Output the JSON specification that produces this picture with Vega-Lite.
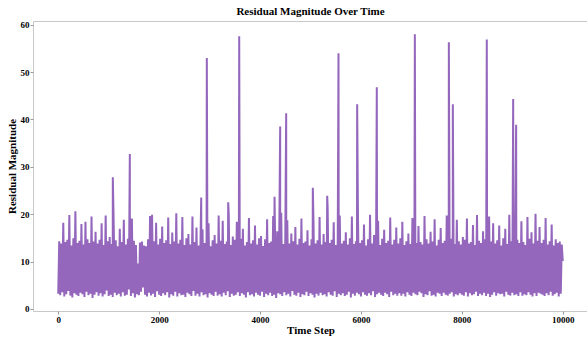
{
  "$schema": "https://vega.github.io/schema/vega-lite/v6.json",
  "width": 555,
  "height": 290,
  "autosize": {"type": "none"},
  "padding": {"left": 33, "top": 21, "right": 0, "bottom": 26},
  "title": {"text": "Residual Magnitude Over Time", "font": "Liberation Serif", "fontSize": 11, "fontWeight": "bold", "color": "#000000", "offset": 4, "anchor": "middle"},
  "config": {
    "view": {"stroke": "#c8c8c8", "strokeWidth": 1},
    "axis": {
      "domain": false,
      "grid": false,
      "tickColor": "#9a9a9a",
      "tickSize": 3,
      "tickWidth": 1,
      "labelFont": "Liberation Serif",
      "labelFontSize": 9,
      "labelFontWeight": "bold",
      "labelColor": "#000000",
      "labelPadding": 1,
      "titleFont": "Liberation Serif",
      "titleFontSize": 11,
      "titleFontWeight": "bold",
      "titleColor": "#000000"
    }
  },
  "data": {"values": [
    {"t":0,"r":3.2},{"t":20,"r":14.3},{"t":40,"r":2.9},{"t":60,"r":13.8},{"t":80,"r":3.5},{"t":100,"r":18.2},{"t":120,"r":2.6},{"t":140,"r":14.1},{"t":160,"r":3.1},{"t":180,"r":14.6},
    {"t":200,"r":3.8},{"t":220,"r":19.8},{"t":240,"r":2.8},{"t":260,"r":13.4},{"t":280,"r":2.4},{"t":300,"r":14.9},{"t":320,"r":3.3},{"t":340,"r":20.6},{"t":360,"r":3.0},{"t":380,"r":13.9},
    {"t":400,"r":2.7},{"t":420,"r":14.4},{"t":440,"r":3.4},{"t":460,"r":17.9},{"t":480,"r":3.1},{"t":500,"r":13.6},{"t":520,"r":2.5},{"t":540,"r":18.4},{"t":560,"r":3.6},{"t":580,"r":14.7},
    {"t":600,"r":2.9},{"t":620,"r":13.9},{"t":640,"r":3.2},{"t":660,"r":19.5},{"t":680,"r":2.3},{"t":700,"r":14.2},{"t":720,"r":3.0},{"t":740,"r":16.3},{"t":760,"r":3.5},{"t":780,"r":13.8},
    {"t":800,"r":2.8},{"t":820,"r":14.6},{"t":840,"r":3.3},{"t":860,"r":18.1},{"t":880,"r":2.6},{"t":900,"r":13.5},{"t":920,"r":3.1},{"t":940,"r":19.7},{"t":960,"r":3.9},{"t":980,"r":14.3},
    {"t":1000,"r":2.7},{"t":1020,"r":15.2},{"t":1040,"r":3.0},{"t":1060,"r":13.7},{"t":1080,"r":2.5},{"t":1100,"r":17.6},{"t":1120,"r":3.4},{"t":1140,"r":14.5},{"t":1160,"r":2.9},{"t":1180,"r":13.2},
    {"t":1200,"r":3.2},{"t":1220,"r":16.9},{"t":1240,"r":2.6},{"t":1260,"r":14.1},{"t":1280,"r":3.5},{"t":1300,"r":18.8},{"t":1320,"r":2.8},{"t":1340,"r":13.6},{"t":1360,"r":3.0},{"t":1380,"r":14.8},
    {"t":1400,"r":4.1},{"t":1420,"r":13.3},{"t":1440,"r":2.7},{"t":1460,"r":19.1},{"t":1480,"r":3.3},{"t":1500,"r":14.4},{"t":1520,"r":2.4},{"t":1540,"r":13.5},{"t":1560,"r":3.1},{"t":1580,"r":9.6},
    {"t":1600,"r":2.9},{"t":1620,"r":14.0},{"t":1640,"r":3.6},{"t":1660,"r":14.2},{"t":1680,"r":4.5},{"t":1700,"r":13.4},{"t":1720,"r":3.0},{"t":1740,"r":13.2},{"t":1760,"r":2.6},{"t":1780,"r":14.7},
    {"t":1800,"r":3.4},{"t":1820,"r":19.6},{"t":1840,"r":2.8},{"t":1860,"r":19.9},{"t":1880,"r":3.2},{"t":1900,"r":14.3},{"t":1920,"r":2.5},{"t":1940,"r":18.2},{"t":1960,"r":3.7},{"t":1980,"r":13.6},
    {"t":2000,"r":3.0},{"t":2020,"r":14.8},{"t":2040,"r":2.7},{"t":2060,"r":17.4},{"t":2080,"r":3.3},{"t":2100,"r":13.9},{"t":2120,"r":2.9},{"t":2140,"r":14.5},{"t":2160,"r":3.5},{"t":2180,"r":19.3},
    {"t":2200,"r":2.4},{"t":2220,"r":13.7},{"t":2240,"r":3.1},{"t":2260,"r":16.1},{"t":2280,"r":2.8},{"t":2300,"r":14.2},{"t":2320,"r":3.6},{"t":2340,"r":20.2},{"t":2360,"r":2.6},{"t":2380,"r":13.8},
    {"t":2400,"r":3.3},{"t":2420,"r":14.6},{"t":2440,"r":2.9},{"t":2460,"r":19.4},{"t":2480,"r":3.0},{"t":2500,"r":13.5},{"t":2520,"r":2.5},{"t":2540,"r":14.9},{"t":2560,"r":3.4},{"t":2580,"r":15.8},
    {"t":2600,"r":3.1},{"t":2620,"r":13.6},{"t":2640,"r":2.7},{"t":2660,"r":19.5},{"t":2680,"r":3.8},{"t":2700,"r":14.1},{"t":2720,"r":2.8},{"t":2740,"r":17.2},{"t":2760,"r":3.2},{"t":2780,"r":13.4},
    {"t":2800,"r":2.6},{"t":2820,"r":14.3},{"t":2840,"r":3.5},{"t":2860,"r":16.8},{"t":2880,"r":2.9},{"t":2900,"r":13.9},{"t":2920,"r":3.1},{"t":2940,"r":14.7},{"t":2960,"r":2.4},{"t":2980,"r":18.1},
    {"t":3000,"r":3.3},{"t":3020,"r":13.2},{"t":3040,"r":3.0},{"t":3060,"r":14.5},{"t":3080,"r":2.7},{"t":3100,"r":15.6},{"t":3120,"r":3.6},{"t":3140,"r":13.8},{"t":3160,"r":2.8},{"t":3180,"r":19.7},
    {"t":3200,"r":3.1},{"t":3220,"r":14.4},{"t":3240,"r":2.6},{"t":3260,"r":18.6},{"t":3280,"r":3.4},{"t":3300,"r":13.7},{"t":3320,"r":2.9},{"t":3340,"r":14.2},{"t":3360,"r":3.7},{"t":3380,"r":19.8},
    {"t":3400,"r":2.5},{"t":3420,"r":13.5},{"t":3440,"r":3.2},{"t":3460,"r":15.3},{"t":3480,"r":2.8},{"t":3500,"r":14.6},{"t":3520,"r":3.0},{"t":3540,"r":18.4},{"t":3560,"r":3.5},{"t":3580,"r":13.9},
    {"t":3600,"r":2.7},{"t":3620,"r":14.8},{"t":3640,"r":3.3},{"t":3660,"r":16.9},{"t":3680,"r":3.0},{"t":3700,"r":13.4},{"t":3720,"r":2.4},{"t":3740,"r":14.1},{"t":3760,"r":3.5},{"t":3780,"r":19.2},
    {"t":3800,"r":2.9},{"t":3820,"r":13.8},{"t":3840,"r":3.1},{"t":3860,"r":14.5},{"t":3880,"r":2.6},{"t":3900,"r":17.6},{"t":3920,"r":3.4},{"t":3940,"r":13.6},{"t":3960,"r":3.0},{"t":3980,"r":14.9},
    {"t":4000,"r":2.8},{"t":4020,"r":15.4},{"t":4040,"r":3.6},{"t":4060,"r":13.3},{"t":4080,"r":2.5},{"t":4100,"r":14.7},{"t":4120,"r":3.2},{"t":4140,"r":18.9},{"t":4160,"r":2.9},{"t":4180,"r":13.9},
    {"t":4200,"r":3.4},{"t":4220,"r":14.2},{"t":4240,"r":2.7},{"t":4260,"r":19.6},{"t":4280,"r":3.0},{"t":4300,"r":13.5},{"t":4320,"r":2.3},{"t":4340,"r":16.4},{"t":4360,"r":3.3},{"t":4380,"r":14.6},
    {"t":4400,"r":3.1},{"t":4420,"r":20.3},{"t":4440,"r":2.7},{"t":4460,"r":13.7},{"t":4480,"r":3.5},{"t":4500,"r":14.4},{"t":4520,"r":2.9},{"t":4540,"r":18.7},{"t":4560,"r":3.2},{"t":4580,"r":13.8},
    {"t":4600,"r":2.6},{"t":4620,"r":15.9},{"t":4640,"r":3.8},{"t":4660,"r":14.3},{"t":4680,"r":3.0},{"t":4700,"r":17.3},{"t":4720,"r":2.8},{"t":4740,"r":13.6},{"t":4760,"r":3.4},{"t":4780,"r":14.8},
    {"t":4800,"r":2.5},{"t":4820,"r":19.1},{"t":4840,"r":3.1},{"t":4860,"r":13.9},{"t":4880,"r":2.9},{"t":4900,"r":14.2},{"t":4920,"r":3.6},{"t":4940,"r":16.6},{"t":4960,"r":2.7},{"t":4980,"r":13.4},
    {"t":5000,"r":3.3},{"t":5020,"r":14.7},{"t":5040,"r":3.0},{"t":5060,"r":17.9},{"t":5080,"r":2.4},{"t":5100,"r":13.8},{"t":5120,"r":3.2},{"t":5140,"r":14.5},{"t":5160,"r":2.8},{"t":5180,"r":19.4},
    {"t":5200,"r":3.4},{"t":5220,"r":13.6},{"t":5240,"r":2.9},{"t":5260,"r":15.8},{"t":5280,"r":3.1},{"t":5300,"r":14.1},{"t":5320,"r":2.6},{"t":5340,"r":21.4},{"t":5360,"r":3.5},{"t":5380,"r":13.9},
    {"t":5400,"r":3.0},{"t":5420,"r":14.6},{"t":5440,"r":2.8},{"t":5460,"r":18.3},{"t":5480,"r":3.7},{"t":5500,"r":13.5},{"t":5520,"r":2.5},{"t":5540,"r":14.8},{"t":5560,"r":3.2},{"t":5580,"r":19.7},
    {"t":5600,"r":2.9},{"t":5620,"r":13.8},{"t":5640,"r":3.3},{"t":5660,"r":14.4},{"t":5680,"r":2.7},{"t":5700,"r":16.2},{"t":5720,"r":3.0},{"t":5740,"r":13.6},{"t":5760,"r":3.6},{"t":5780,"r":14.9},
    {"t":5800,"r":2.4},{"t":5820,"r":19.5},{"t":5840,"r":3.2},{"t":5860,"r":13.7},{"t":5880,"r":2.8},{"t":5900,"r":14.3},{"t":5920,"r":3.4},{"t":5940,"r":20.8},{"t":5960,"r":3.1},{"t":5980,"r":13.9},
    {"t":6000,"r":2.6},{"t":6020,"r":14.5},{"t":6040,"r":3.5},{"t":6060,"r":17.8},{"t":6080,"r":3.0},{"t":6100,"r":13.4},{"t":6120,"r":2.8},{"t":6140,"r":14.7},{"t":6160,"r":3.3},{"t":6180,"r":19.9},
    {"t":6200,"r":2.9},{"t":6220,"r":13.8},{"t":6240,"r":3.7},{"t":6260,"r":15.6},{"t":6280,"r":2.5},{"t":6300,"r":14.2},{"t":6320,"r":3.1},{"t":6340,"r":18.6},{"t":6360,"r":3.4},{"t":6380,"r":13.5},
    {"t":6400,"r":3.0},{"t":6420,"r":14.8},{"t":6440,"r":2.7},{"t":6460,"r":16.7},{"t":6480,"r":3.4},{"t":6500,"r":13.9},{"t":6520,"r":3.1},{"t":6540,"r":14.4},{"t":6560,"r":2.5},{"t":6580,"r":19.3},
    {"t":6600,"r":3.6},{"t":6620,"r":13.6},{"t":6640,"r":2.9},{"t":6660,"r":14.6},{"t":6680,"r":3.2},{"t":6700,"r":17.2},{"t":6720,"r":2.8},{"t":6740,"r":13.8},{"t":6760,"r":3.3},{"t":6780,"r":14.9},
    {"t":6800,"r":2.8},{"t":6820,"r":18.4},{"t":6840,"r":3.2},{"t":6860,"r":13.5},{"t":6880,"r":2.6},{"t":6900,"r":14.3},{"t":6920,"r":3.5},{"t":6940,"r":15.9},{"t":6960,"r":3.0},{"t":6980,"r":13.7},
    {"t":7000,"r":2.7},{"t":7020,"r":19.2},{"t":7040,"r":3.4},{"t":7060,"r":14.5},{"t":7080,"r":3.1},{"t":7100,"r":13.9},{"t":7120,"r":2.9},{"t":7140,"r":17.5},{"t":7160,"r":3.6},{"t":7180,"r":14.1},
    {"t":7200,"r":3.3},{"t":7220,"r":13.6},{"t":7240,"r":2.5},{"t":7260,"r":19.6},{"t":7280,"r":3.1},{"t":7300,"r":14.7},{"t":7320,"r":2.9},{"t":7340,"r":13.8},{"t":7360,"r":3.7},{"t":7380,"r":16.3},
    {"t":7400,"r":2.8},{"t":7420,"r":14.2},{"t":7440,"r":3.0},{"t":7460,"r":18.9},{"t":7480,"r":2.6},{"t":7500,"r":13.4},{"t":7520,"r":3.4},{"t":7540,"r":14.6},{"t":7560,"r":3.2},{"t":7580,"r":17.1},
    {"t":7600,"r":2.7},{"t":7620,"r":13.9},{"t":7640,"r":3.4},{"t":7660,"r":14.4},{"t":7680,"r":3.0},{"t":7700,"r":19.7},{"t":7720,"r":2.8},{"t":7740,"r":13.5},{"t":7760,"r":3.2},{"t":7780,"r":14.8},
    {"t":7800,"r":3.5},{"t":7820,"r":16.5},{"t":7840,"r":2.6},{"t":7860,"r":13.7},{"t":7880,"r":3.1},{"t":7900,"r":18.8},{"t":7920,"r":2.9},{"t":7940,"r":14.3},{"t":7960,"r":3.3},{"t":7980,"r":13.6},
    {"t":8000,"r":3.0},{"t":8020,"r":15.2},{"t":8040,"r":2.8},{"t":8060,"r":14.6},{"t":8080,"r":3.5},{"t":8100,"r":19.1},{"t":8120,"r":2.6},{"t":8140,"r":13.8},{"t":8160,"r":3.3},{"t":8180,"r":14.1},
    {"t":8200,"r":2.9},{"t":8220,"r":17.7},{"t":8240,"r":3.1},{"t":8260,"r":13.5},{"t":8280,"r":3.6},{"t":8300,"r":19.8},{"t":8320,"r":2.7},{"t":8340,"r":14.4},{"t":8360,"r":3.2},{"t":8380,"r":13.9},
    {"t":8400,"r":2.9},{"t":8420,"r":16.4},{"t":8440,"r":3.4},{"t":8460,"r":14.7},{"t":8480,"r":2.7},{"t":8500,"r":13.6},{"t":8520,"r":3.2},{"t":8540,"r":19.5},{"t":8560,"r":2.5},{"t":8580,"r":14.2},
    {"t":8600,"r":3.0},{"t":8620,"r":18.1},{"t":8640,"r":3.5},{"t":8660,"r":13.8},{"t":8680,"r":2.8},{"t":8700,"r":14.5},{"t":8720,"r":3.3},{"t":8740,"r":17.6},{"t":8760,"r":3.1},{"t":8780,"r":13.4},
    {"t":8800,"r":3.2},{"t":8820,"r":14.9},{"t":8840,"r":2.6},{"t":8860,"r":16.9},{"t":8880,"r":3.6},{"t":8900,"r":13.7},{"t":8920,"r":3.0},{"t":8940,"r":19.9},{"t":8960,"r":2.8},{"t":8980,"r":14.3},
    {"t":9000,"r":3.4},{"t":9020,"r":13.6},{"t":9040,"r":2.9},{"t":9060,"r":20.2},{"t":9080,"r":3.1},{"t":9100,"r":14.6},{"t":9120,"r":2.7},{"t":9140,"r":13.9},{"t":9160,"r":3.5},{"t":9180,"r":18.5},
    {"t":9200,"r":2.8},{"t":9220,"r":14.1},{"t":9240,"r":3.1},{"t":9260,"r":13.5},{"t":9280,"r":2.9},{"t":9300,"r":19.4},{"t":9320,"r":3.5},{"t":9340,"r":14.8},{"t":9360,"r":3.0},{"t":9380,"r":16.2},
    {"t":9400,"r":2.6},{"t":9420,"r":13.8},{"t":9440,"r":3.3},{"t":9460,"r":20.1},{"t":9480,"r":2.7},{"t":9500,"r":14.4},{"t":9520,"r":3.4},{"t":9540,"r":17.3},{"t":9560,"r":3.2},{"t":9580,"r":13.9},
    {"t":9600,"r":3.0},{"t":9620,"r":14.6},{"t":9640,"r":2.7},{"t":9660,"r":19.2},{"t":9680,"r":3.3},{"t":9700,"r":13.6},{"t":9720,"r":2.9},{"t":9740,"r":14.3},{"t":9760,"r":3.6},{"t":9780,"r":17.8},
    {"t":9800,"r":2.8},{"t":9820,"r":13.4},{"t":9840,"r":3.1},{"t":9860,"r":14.7},{"t":9880,"r":3.4},{"t":9900,"r":13.9},{"t":9920,"r":2.6},{"t":9940,"r":14.2},{"t":9960,"r":3.2},{"t":9980,"r":13.6},
    {"t":10000,"r":10.1},
    {"t":1082,"r":27.8},{"t":1419,"r":32.7},{"t":2834,"r":23.5},{"t":2945,"r":53.0},{"t":3369,"r":22.5},{"t":3587,"r":57.6},{"t":4287,"r":23.7},{"t":4399,"r":38.5},{"t":4518,"r":41.3},{"t":5046,"r":25.6},
    {"t":5331,"r":23.9},{"t":5555,"r":54.0},{"t":5925,"r":43.2},{"t":6314,"r":46.8},{"t":7068,"r":58.0},{"t":7742,"r":56.3},{"t":7821,"r":43.2},{"t":8494,"r":56.9},{"t":9017,"r":44.3},{"t":9076,"r":38.9}
  ]},
  "mark": {"type": "line", "color": "#9467bd", "strokeWidth": 2, "clip": true},
  "encoding": {
    "x": {
      "field": "t",
      "type": "quantitative",
      "scale": {"domain": [-500, 10500], "nice": false, "zero": false},
      "axis": {"values": [0, 2000, 4000, 6000, 8000, 10000], "format": "d", "title": "Time Step", "titlePadding": 0}
    },
    "y": {
      "field": "r",
      "type": "quantitative",
      "scale": {"domain": [-0.45, 60.8], "nice": false, "zero": false},
      "axis": {"values": [0, 10, 20, 30, 40, 50, 60], "format": "d", "title": "Residual Magnitude", "titlePadding": 3}
    }
  }
}
